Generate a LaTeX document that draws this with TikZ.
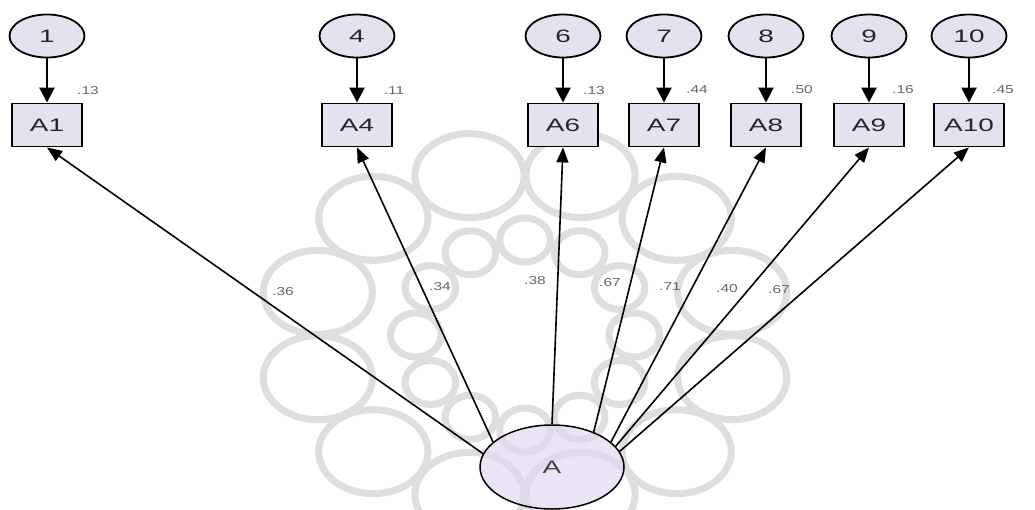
\documentclass[tikz,border=0pt]{standalone}
\usepackage{fontspec}
\setmainfont{Liberation Sans}
\usetikzlibrary{shapes.geometric,arrows.meta}
\definecolor{lav}{HTML}{E5E1EF}
\definecolor{latfill}{HTML}{E2D7F2}
\definecolor{wmgray}{HTML}{DEDEDE}
\newcommand{\wtxt}[1]{\scalebox{1.55}[1]{#1}}
\newcommand{\wval}[1]{\scalebox{1.35}[1]{#1}}

\begin{document}
\begin{tikzpicture}[x=1pt,y=-1pt,
  err/.style={ellipse,draw,line width=1.8pt,fill=lav,minimum width=75pt,minimum height=43pt,inner sep=0pt,font=\fontsize{18}{18}\selectfont,text=black!85},
  obs/.style={rectangle,draw,line width=1.9pt,fill=lav,minimum width=70pt,minimum height=43pt,inner sep=0pt,font=\fontsize{18}{18}\selectfont,text=black!85},
  lat/.style={ellipse,draw,line width=1.5pt,fill=latfill,fill opacity=.7,text opacity=1,minimum width=144pt,minimum height=84pt,inner sep=0pt,font=\fontsize{18}{18}\selectfont,text=black!75},
  val/.style={font=\fontsize{11.5}{11.5}\selectfont,text=black!60,inner sep=1pt},
  res/.style={-{Triangle[length=15pt,width=15pt]},line width=2.6pt},
  load/.style={-{Triangle[length=15pt,width=12pt]},line width=1.6pt}]
\useasboundingbox(0,0)rectangle(1035,509);

% faint rosette behind the model
\begin{scope}[shift={(525,335)},draw=wmgray,line width=7pt]
\foreach \a in {0,30,...,330} \draw[xscale=1.15](\a:95)circle(22);
\foreach \a in {15,45,...,345} \draw[xscale=1.3](\a:165)circle(42);
\end{scope}

\node[err](e1)at(47,36){\wtxt{1}};
\node[err](e4)at(357,36){\wtxt{4}};
\node[err](e6)at(563,36){\wtxt{6}};
\node[err](e7)at(664,36){\wtxt{7}};
\node[err](e8)at(766,36){\wtxt{8}};
\node[err](e9)at(869,36){\wtxt{9}};
\node[err](e10)at(969,36){\wtxt{10}};

\node[obs](a1)at(47,125){\wtxt{A1}};
\node[obs](a4)at(357,125){\wtxt{A4}};
\node[obs](a6)at(563,125){\wtxt{A6}};
\node[obs](a7)at(664,125){\wtxt{A7}};
\node[obs](a8)at(766,125){\wtxt{A8}};
\node[obs](a9)at(869,125){\wtxt{A9}};
\node[obs](a10)at(969,125){\wtxt{A10}};

\node[lat](A)at(552,467){\wtxt{A}};

\draw[res](e1)--(a1);
\draw[res](e4)--(a4);
\draw[res](e6)--(a6);
\draw[res](e7)--(a7);
\draw[res](e8)--(a8);
\draw[res](e9)--(a9);
\draw[res](e10)--(a10);

\draw[load](A.169)--(a1.south);
\draw[load](A.157)--(a4.south);
\draw[load](A.90)--(a6.south);
\draw[load](A.40)--(a7.south);
\draw[load](A.23)--(a8.south);
\draw[load](A.18)--(a9.south);
\draw[load](A.13)--(a10.south);

\node[val](r1)at(88,91){\wval{.13}};
\node[val](r4)at(394,91){\wval{.11}};
\node[val](r6)at(594,91){\wval{.13}};
\node[val](r7)at(697,90){\wval{.44}};
\node[val](r8)at(802,90){\wval{.50}};
\node[val](r9)at(903,90){\wval{.16}};
\node[val](r10)at(1003,90){\wval{.45}};

\node[val](l1)at(283,292){\wval{.36}};
\node[val](l4)at(440,287){\wval{.34}};
\node[val](l6)at(535,281){\wval{.38}};
\node[val](l7)at(610,283){\wval{.67}};
\node[val](l8)at(670,287){\wval{.71}};
\node[val](l9)at(727,289){\wval{.40}};
\node[val](l10)at(779,290){\wval{.67}};
\end{tikzpicture}
\end{document}
